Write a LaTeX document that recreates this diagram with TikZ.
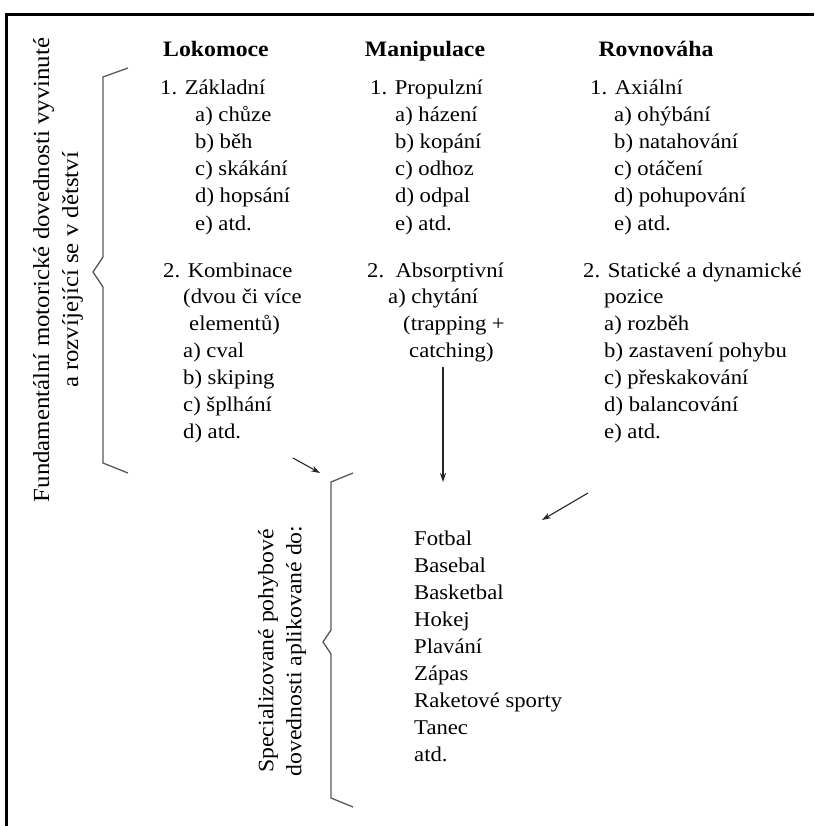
\documentclass[tikz,border=0pt]{standalone}
\usepackage{fontspec}
\setmainfont{Liberation Serif}[FakeStretch=1.08]
\usetikzlibrary{arrows.meta}

\begin{document}
\begin{tikzpicture}[x=1pt,y=-1pt,
  txt/.style={anchor=base west, inner sep=0pt, font=\fontsize{21}{27}\selectfont},
  head/.style={anchor=base, inner sep=0pt, font=\fontsize{22}{27}\selectfont\bfseries},
  side/.style={rotate=90, align=center, inner sep=0pt},
  brace/.style={draw=black!65, line width=1.3pt, line join=miter},
  link/.style={draw=black!85, line width=1.1pt, -{Stealth[length=9pt,width=6pt]}},
  frameline/.style={line width=2.2pt}]
\useasboundingbox (0,0) rectangle (814,826);

% open frame: left and top edges only
\draw[frameline] (6.5,826) -- (6.5,14.5) -- (814,14.5);

% column headings
\node[head] (hLok) at (216,57) {Lokomoce};
\node[head] (hMan) at (425,57) {Manipulace};
\node[head] (hRov) at (656,57) {Rovnováha};

% Lokomoce
\node[txt] (l1) at (160,95) {1. Základní};
\foreach \t [count=\i] in {a) chůze, b) běh, c) skákání, d) hopsání, e) atd.}
  \node[txt] (l1\i) at (195,{122+27*(\i-1)}) {\t};
\node[txt] (l2) at (163,277) {2. Kombinace};
\node[txt] (l2x) at (183,303) {(dvou či více};
\node[txt] (l2y) at (189,330) {elementů)};
\foreach \t [count=\i] in {a) cval, b) skiping, c) šplhání, d) atd.}
  \node[txt] (l2\i) at (183,{357+27*(\i-1)}) {\t};

% Manipulace
\node[txt] (m1) at (370,95) {1. Propulzní};
\foreach \t [count=\i] in {a) házení, b) kopání, c) odhoz, d) odpal, e) atd.}
  \node[txt] (m1\i) at (395,{122+27*(\i-1)}) {\t};
\node[txt] (m2) at (367,277) {2.\ \ Absorptivní};
\node[txt] (m2a) at (388,303) {a) chytání};
\node[txt] (m2b) at (403,330) {(trapping +};
\node[txt] (m2c) at (409,357) {catching)};

% Rovnováha
\node[txt] (r1) at (590,95) {1. Axiální};
\foreach \t [count=\i] in {a) ohýbání, b) natahování, c) otáčení, d) pohupování, e) atd.}
  \node[txt] (r1\i) at (614,{122+27*(\i-1)}) {\t};
\node[txt] (r2) at (583,277) {2. Statické a dynamické};
\node[txt] (r2x) at (604,303) {pozice};
\foreach \t [count=\i] in {a) rozběh, b) zastavení pohybu, c) přeskakování, d) balancování, e) atd.}
  \node[txt] (r2\i) at (604,{330+27*(\i-1)}) {\t};

% sports list
\foreach \t [count=\i] in {Fotbal, Basebal, Basketbal, Hokej, Plavání, Zápas, Raketové sporty, Tanec, atd.}
  \node[txt] (s\i) at (414,{545+27*(\i-1)}) {\t};

% side labels
\node[side, font=\fontsize{23}{29}\selectfont] (sideA) at (58,270)
  {Fundamentální motorické dovednosti vyvinuté\\a rozvíjející se v dětství};
\node[side, font=\fontsize{22}{28}\selectfont] (sideB) at (282,651)
  {Specializované pohybové\\dovednosti aplikované do:};

% braces
\draw[brace] (128,68) -- (103,77) -- (103,257) -- (93,272) -- (103,287) -- (103,463) -- (128,473);
\draw[brace] (353,473) -- (331,482) -- (331,630) -- (323,642) -- (331,654) -- (331,798) -- (353,807);

% arrows
\coordinate (a1s) at (293,458);
\coordinate (a1e) at (320,473);
\coordinate (a2s) at (443,367);
\coordinate (a2e) at (443,482);
\coordinate (a3s) at (588,493);
\coordinate (a3e) at (542,520);
\draw[link] (a1s) -- (a1e);
\draw[link] (a2s) -- (a2e);
\draw[link] (a3s) -- (a3e);
\end{tikzpicture}
\end{document}
